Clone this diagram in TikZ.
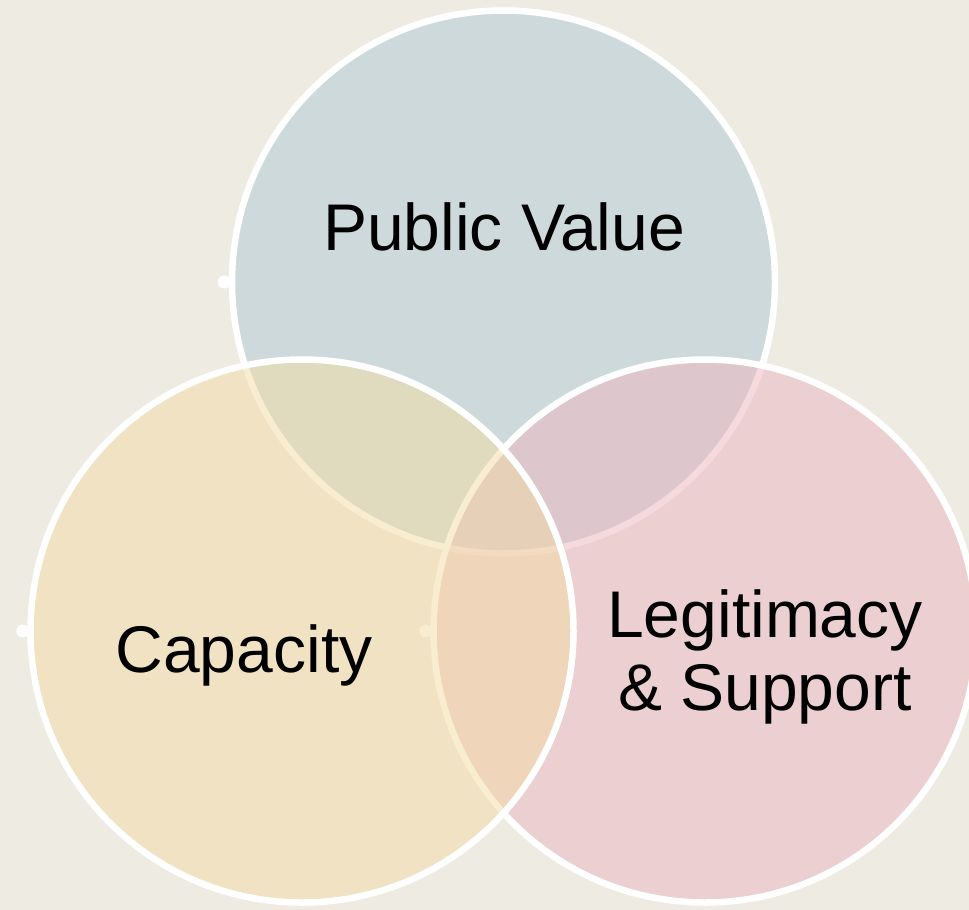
\documentclass[tikz,border=0pt]{standalone}
\usepackage{fontspec}
\setmainfont{Liberation Sans}
\definecolor{bg}{RGB}{238,235,227}
\definecolor{pvcol}{RGB}{176,201,213}
\definecolor{capcol}{RGB}{242,219,165}
\definecolor{legcol}{RGB}{236,181,191}
\tikzset{
  venn/.style={circle, minimum size=543pt, inner sep=0pt, draw=white, line width=6.5pt, fill opacity=0.5},
  dotmark/.style={circle, minimum size=13pt, inner sep=0pt, fill=white},
  lbl/.style={font=\fontsize{66}{73}\selectfont, text=black, align=center, inner sep=0pt}
}
\begin{document}
\begin{tikzpicture}[x=1pt,y=-1pt]
\fill[bg] (0,0) rectangle (969,910);
\useasboundingbox (0,0) rectangle (969,910);
\begin{scope}
\clip (0,0) rectangle (969,910);
\node[venn, fill=pvcol] (pv) at (503.5,282) {};
\node[dotmark] (pvdot) at ([xshift=-4.5pt]pv.west) {};
\node[venn, fill=legcol] (leg) at (705,631) {};
\node[dotmark] (legdot) at ([xshift=-4.5pt]leg.west) {};
\node[venn, fill=capcol] (cap) at (302,631) {};
\node[dotmark] (capdot) at ([xshift=-4.5pt]cap.west) {};
\end{scope}
\node[lbl, anchor=base] (tpv) at (504,250) {Public Value};
\node[lbl, anchor=base] (tcap) at (244,672) {Capacity};
\node[lbl, anchor=base] (tleg1) at (765,637) {Legitimacy};
\node[lbl, anchor=base] (tleg2) at (765,710) {\&~Support};
\end{tikzpicture}
\end{document}
